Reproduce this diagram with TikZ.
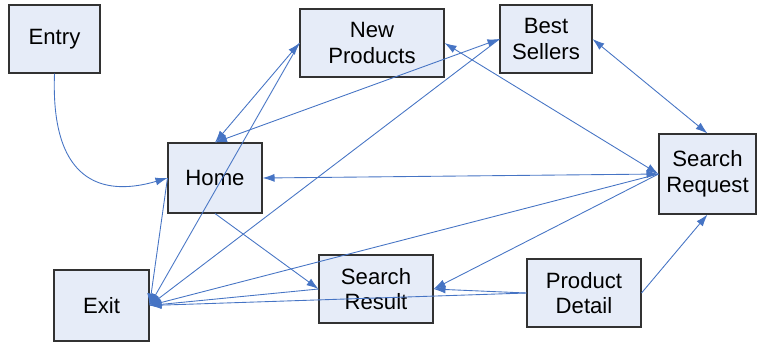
\documentclass[tikz,border=0pt]{standalone}
\usepackage{fontspec}
\setmainfont{Liberation Sans}
\usetikzlibrary{arrows.meta}

\definecolor{boxfill}{RGB}{230,236,248}
\definecolor{boxline}{RGB}{50,50,50}
\definecolor{linkblue}{RGB}{70,116,196}

\begin{document}
\begin{tikzpicture}[x=0.02cm, y=-0.02cm,
        page/.style={draw=boxline, fill=boxfill, line width=0.6pt, align=center,
                     inner sep=0pt, font=\fontsize{12.6}{14.5}\selectfont},
        link/.style={draw=linkblue, line width=0.5pt},
        tip/.style={-{Latex[length=2.4mm,width=1.6mm]}},
        twotip/.style={{Latex[length=2.4mm,width=1.6mm]}-{Latex[length=2.4mm,width=1.6mm]}}]

                \useasboundingbox (0,0) rectangle (757,343);

                % Define and draw the pages (nodes)
                \node[page, minimum width=1.82cm, minimum height=1.36cm] (entry) at (54.5, 39) {Entry};
                \node[page, minimum width=1.88cm, minimum height=1.40cm] (home) at (215, 178) {Home};
                \node[page, minimum width=2.88cm, minimum height=1.36cm] (newprod) at (372, 43) {New\\Products};
                \node[page, minimum width=1.84cm, minimum height=1.36cm] (best) at (546, 39) {Best\\Sellers};
                \node[page, minimum width=1.94cm, minimum height=1.60cm] (sreq) at (707.5, 174) {Search\\Request};
                \node[page, minimum width=1.90cm, minimum height=1.42cm] (exit) at (101.5, 305.5) {Exit};
                \node[page, minimum width=2.28cm, minimum height=1.36cm] (sres) at (376, 289) {Search\\Result};
                \node[page, minimum width=2.28cm, minimum height=1.36cm] (pdet) at (584, 293) {Product\\Detail};

                % Entry leads into Home
                \draw[link, tip] (entry.south) .. controls (50, 190) and (110, 195) .. (home.west);

                % Links between Home, the lists and the search
                \draw[link, twotip] (home.north) -- (newprod.west);
                \draw[link, twotip] (home.north) -- (best.west);
                \draw[link, twotip] (home.east) -- (sreq.west);
                \draw[link, twotip] (newprod.east) -- (sreq.west);
                \draw[link, twotip] (best.east) -- (sreq.north);
                \draw[link, tip] (home.south) -- (sres.west);
                \draw[link, tip] (sreq.west) -- (sres.east);
                \draw[link, tip] (pdet.west) -- (sres.east);
                \draw[link, tip] (pdet.east) -- (sreq.south);

                % Every page can leave to Exit
                \draw[link, tip] (home.west) -- (exit.east);
                \draw[link, tip] (newprod.west) -- (exit.east);
                \draw[link, tip] (best.west) -- (exit.east);
                \draw[link, tip] (sreq.west) -- (exit.east);
                \draw[link, tip] (sres.west) -- (exit.east);
                \draw[link, tip] (pdet.west) -- (exit.east);
            \end{tikzpicture}
\end{document}
